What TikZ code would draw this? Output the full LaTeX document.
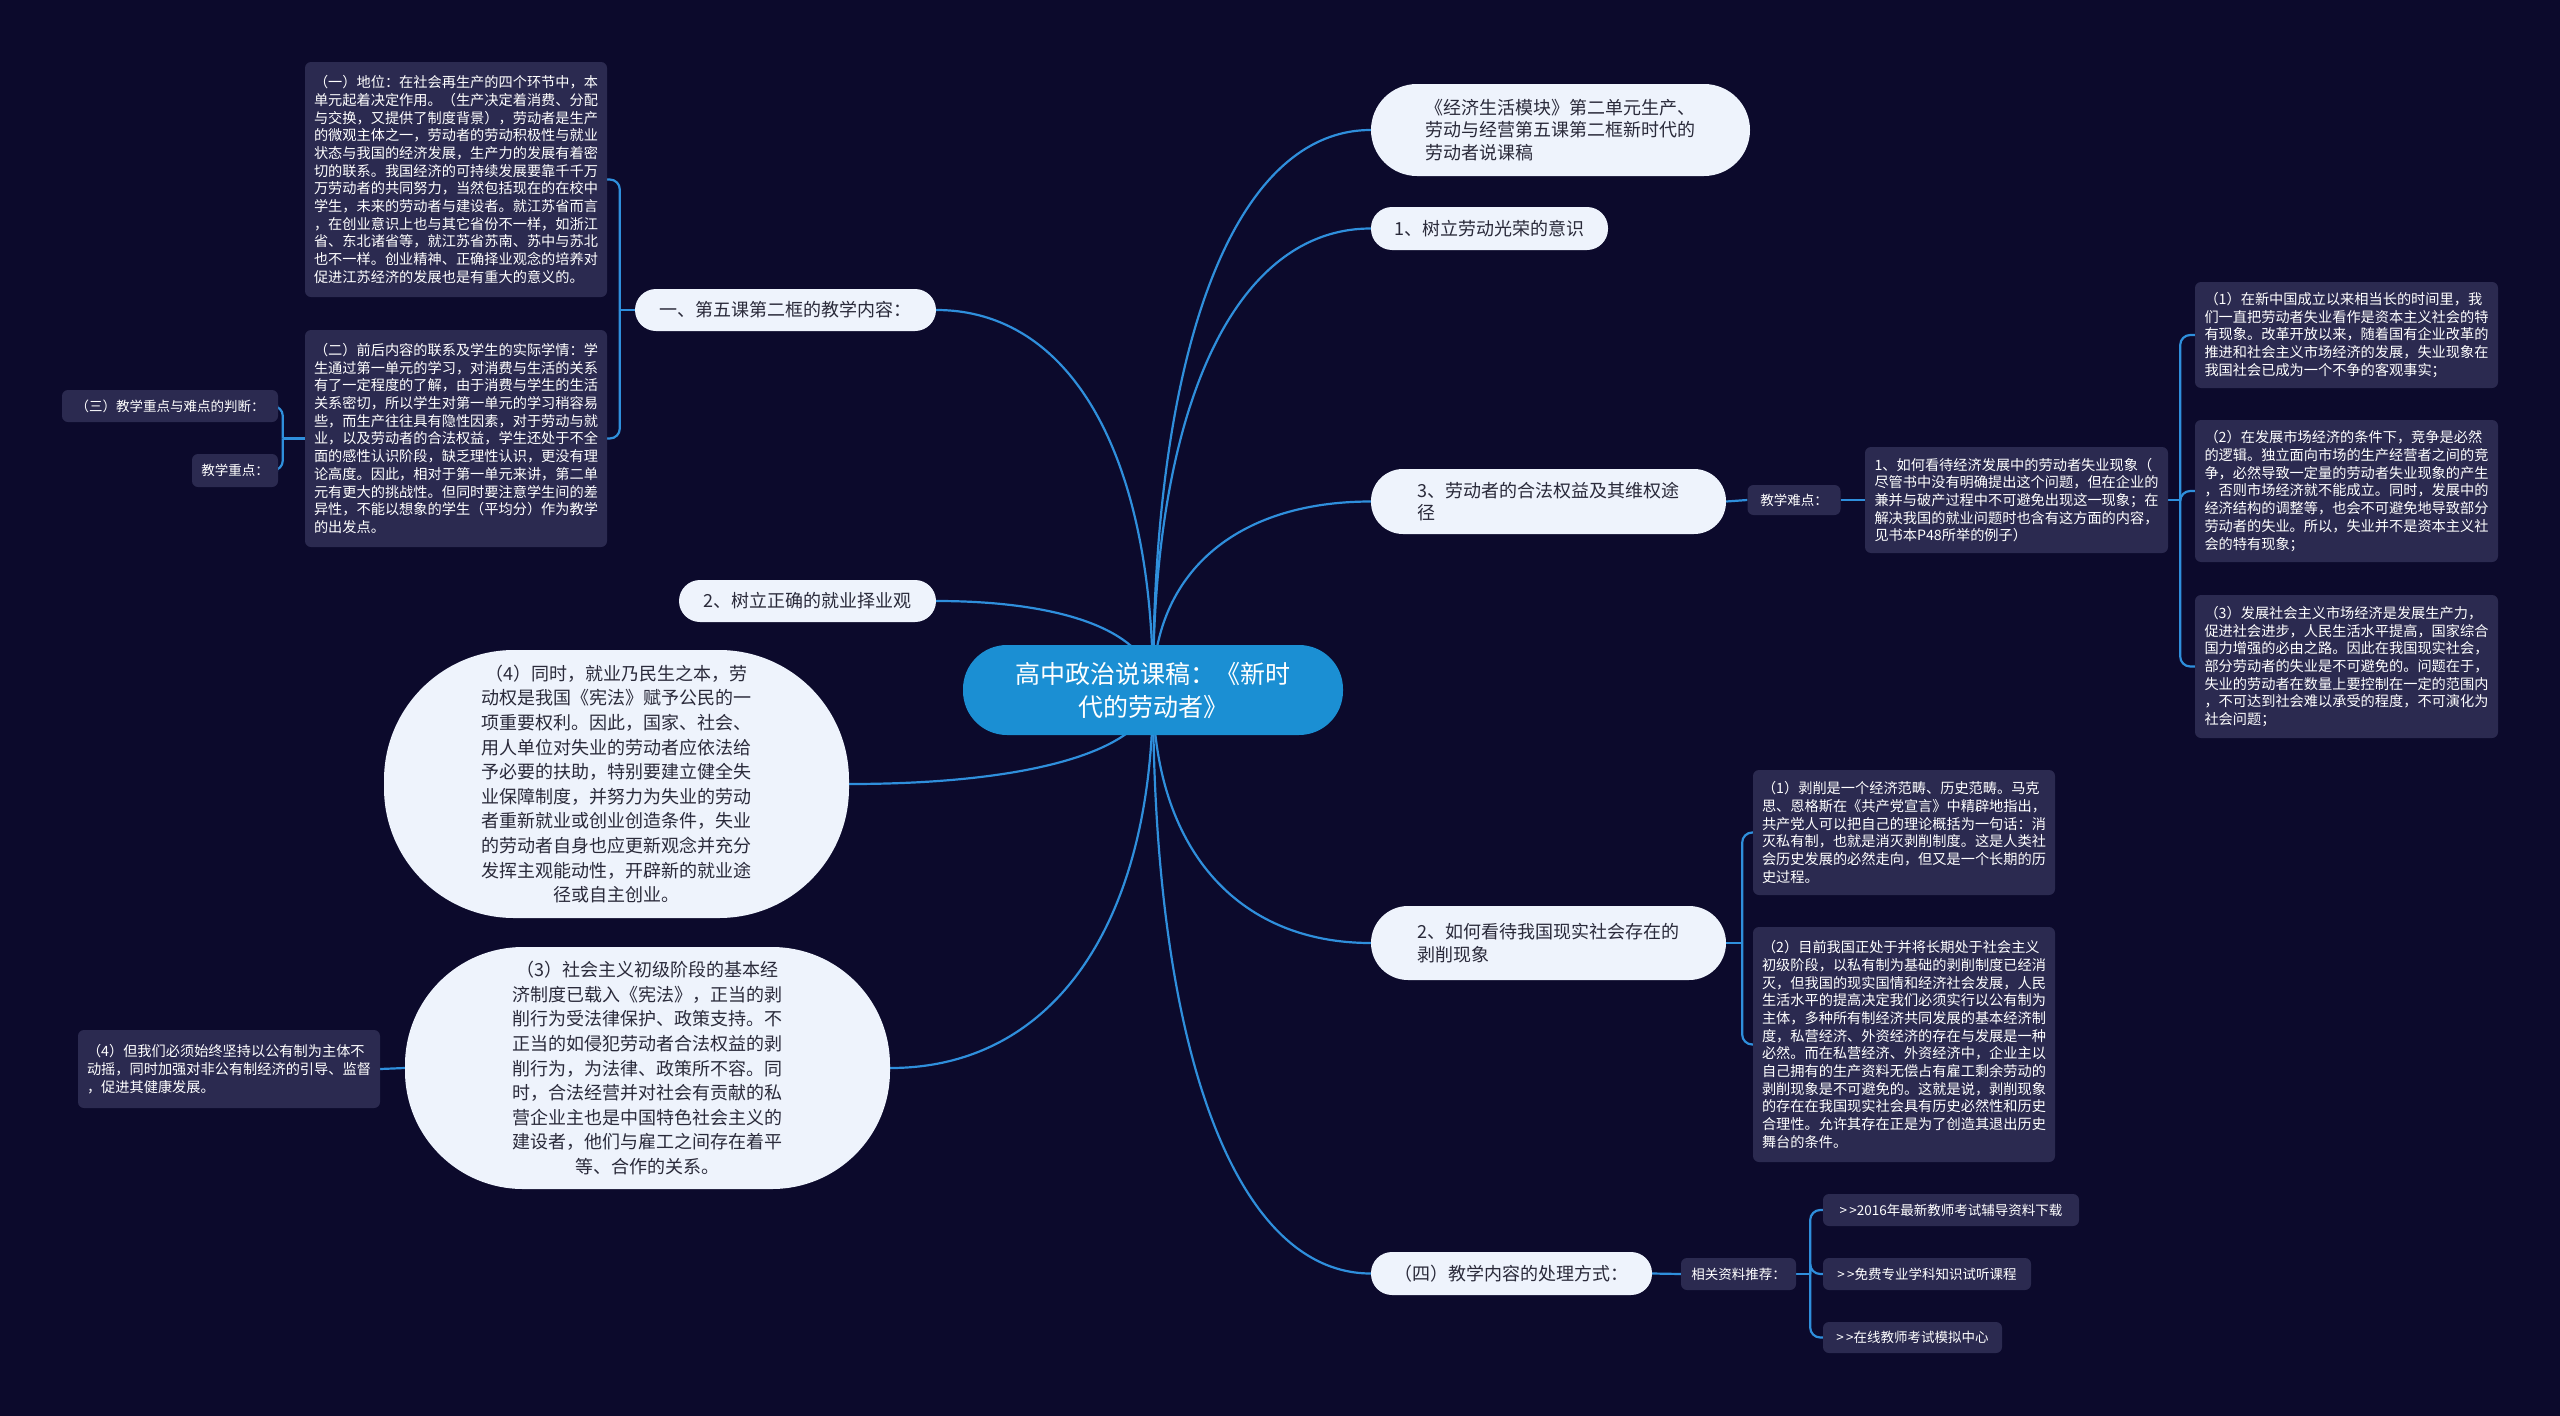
\documentclass[tikz,border=0pt]{standalone}
\usepackage{fontspec}
\setmainfont{Noto Sans CJK SC}
\usetikzlibrary{calc}
\definecolor{bgc}{HTML}{0C0A2C}
\definecolor{boxc}{HTML}{2B2A50}
\definecolor{boxtxt}{HTML}{FFFFFF}
\definecolor{lightc}{HTML}{EEF3FC}
\definecolor{lighttxt}{HTML}{2A2A3A}
\definecolor{linec}{HTML}{2F8FDC}
\definecolor{rootc}{HTML}{1B8FD3}
\pgfdeclarelayer{back}
\pgfdeclarelayer{lines}
\pgfsetlayers{back,lines,main}
\newcommand{\mmcurve}[2]{\draw[conn] (#1) .. controls ($(#1)!0.62!(#1|-#2)$) and ($(#2)!0.62!(#1|-#2)$) .. (#2);}
\begin{document}
\begin{tikzpicture}[x=1pt,y=-1pt,
  darkbox/.style={fill=boxc, rounded corners=6, text=boxtxt, font=\fontsize{14.2}{17.7}\selectfont, align=left, inner sep=3},
  smallbox/.style={fill=boxc, rounded corners=6, text=boxtxt, font=\fontsize{13.5}{16}\selectfont, align=left, inner sep=3},
  lightnode/.style={fill=lightc, text=lighttxt, font=\fontsize{18}{22.5}\selectfont, align=left, inner sep=3},
  bigpill/.style={fill=lightc, text=lighttxt, font=\fontsize{18}{24.6}\selectfont, align=center, inner sep=3},
  rootnode/.style={fill=rootc, text=white, font=\fontsize{25}{33}\selectfont, align=center, inner sep=3, rounded corners=44},
  conn/.style={draw=linec, line width=2.2},
  bracket/.style={draw=linec, line width=2.2, rounded corners=10}]
\begin{pgfonlayer}{back}
\fill[bgc] (0,0) rectangle (2560,1416);
\end{pgfonlayer}
\useasboundingbox (0,0) rectangle (2560,1416);

% root
\node[rootnode, minimum width=380, minimum height=90] (root) at (1153,690) {高中政治说课稿：《新时\\代的劳动者》};

% level 1 right
\node[lightnode, rounded corners=46, minimum width=379, minimum height=92] (n1) at (1560.5,130) {《经济生活模块》第二单元生产、\\劳动与经营第五课第二框新时代的\\劳动者说课稿};
\node[lightnode, rounded corners=21, minimum width=237, minimum height=43] (n2) at (1489.5,228.5) {1、树立劳动光荣的意识};
\node[lightnode, rounded corners=32, minimum width=355, minimum height=65] (n3) at (1548.5,501.5) {3、劳动者的合法权益及其维权途\\径};
\node[lightnode, rounded corners=37, minimum width=355, minimum height=74] (n4) at (1548.5,943) {2、如何看待我国现实社会存在的\\剥削现象};
\node[lightnode, rounded corners=21, minimum width=281, minimum height=43] (n5) at (1511.5,1273.5) {（四）教学内容的处理方式：};

% level 1 left
\node[lightnode, rounded corners=21, minimum width=301, minimum height=42] (n6) at (785.5,310) {一、第五课第二框的教学内容：};
\node[lightnode, rounded corners=21, minimum width=257, minimum height=42] (n7) at (807.5,601) {2、树立正确的就业择业观};
\node[bigpill, rounded corners=130, minimum width=465, minimum height=268] (n8) at (616.5,784) {（4）同时，就业乃民生之本，劳\\动权是我国《宪法》赋予公民的一\\项重要权利。因此，国家、社会、\\用人单位对失业的劳动者应依法给\\予必要的扶助，特别要建立健全失\\业保障制度，并努力为失业的劳动\\者重新就业或创业创造条件，失业\\的劳动者自身也应更新观念并充分\\发挥主观能动性，开辟新的就业途\\径或自主创业。};
\node[bigpill, rounded corners=118, minimum width=485, minimum height=242] (n9) at (647.5,1068) {（3）社会主义初级阶段的基本经\\济制度已载入《宪法》，正当的剥\\削行为受法律保护、政策支持。不\\正当的如侵犯劳动者合法权益的剥\\削行为，为法律、政策所不容。同\\时，合法经营并对社会有贡献的私\\营企业主也是中国特色社会主义的\\建设者，他们与雇工之间存在着平\\等、合作的关系。};

% children of n6
\node[darkbox, minimum width=302, minimum height=235] (a1) at (456,179.5) {（一）地位：在社会再生产的四个环节中，本\\单元起着决定作用。（生产决定着消费、分配\\与交换，又提供了制度背景），劳动者是生产\\的微观主体之一，劳动者的劳动积极性与就业\\状态与我国的经济发展，生产力的发展有着密\\切的联系。我国经济的可持续发展要靠千千万\\万劳动者的共同努力，当然包括现在的在校中\\学生，未来的劳动者与建设者。就江苏省而言\\，在创业意识上也与其它省份不一样，如浙江\\省、东北诸省等，就江苏省苏南、苏中与苏北\\也不一样。创业精神、正确择业观念的培养对\\促进江苏经济的发展也是有重大的意义的。};
\node[darkbox, minimum width=302, minimum height=217] (a2) at (456,438.5) {（二）前后内容的联系及学生的实际学情：学\\生通过第一单元的学习，对消费与生活的关系\\有了一定程度的了解，由于消费与学生的生活\\关系密切，所以学生对第一单元的学习稍容易\\些，而生产往往具有隐性因素，对于劳动与就\\业，以及劳动者的合法权益，学生还处于不全\\面的感性认识阶段，缺乏理性认识，更没有理\\论高度。因此，相对于第一单元来讲，第二单\\元有更大的挑战性。但同时要注意学生间的差\\异性，不能以想象的学生（平均分）作为教学\\的出发点。};
\node[smallbox, minimum width=216, minimum height=32] (a3) at (170,406) {（三）教学重点与难点的判断：};
\node[smallbox, minimum width=86, minimum height=33] (a4) at (235,470.5) {教学重点：};

% children of n3
\node[smallbox, minimum width=93, minimum height=30] (nd) at (1794,500) {教学难点：};
\node[darkbox, minimum width=303, minimum height=106] (r0) at (2016.5,500) {1、如何看待经济发展中的劳动者失业现象（\\尽管书中没有明确提出这个问题，但在企业的\\兼并与破产过程中不可避免出现这一现象；在\\解决我国的就业问题时也含有这方面的内容，\\见书本P48所举的例子）};
\node[darkbox, minimum width=303, minimum height=106] (r1) at (2346.5,335) {（1）在新中国成立以来相当长的时间里，我\\们一直把劳动者失业看作是资本主义社会的特\\有现象。改革开放以来，随着国有企业改革的\\推进和社会主义市场经济的发展，失业现象在\\我国社会已成为一个不争的客观事实；};
\node[darkbox, minimum width=303, minimum height=142] (r2) at (2346.5,491) {（2）在发展市场经济的条件下，竞争是必然\\的逻辑。独立面向市场的生产经营者之间的竞\\争，必然导致一定量的劳动者失业现象的产生\\，否则市场经济就不能成立。同时，发展中的\\经济结构的调整等，也会不可避免地导致部分\\劳动者的失业。所以，失业并不是资本主义社\\会的特有现象；};
\node[darkbox, minimum width=303, minimum height=143] (r3) at (2346.5,666.5) {（3）发展社会主义市场经济是发展生产力，\\促进社会进步，人民生活水平提高，国家综合\\国力增强的必由之路。因此在我国现实社会，\\部分劳动者的失业是不可避免的。问题在于，\\失业的劳动者在数量上要控制在一定的范围内\\，不可达到社会难以承受的程度，不可演化为\\社会问题；};

% children of n4
\node[darkbox, minimum width=302, minimum height=125] (e1) at (1904,832.5) {（1）剥削是一个经济范畴、历史范畴。马克\\思、恩格斯在《共产党宣言》中精辟地指出，\\共产党人可以把自己的理论概括为一句话：消\\灭私有制，也就是消灭剥削制度。这是人类社\\会历史发展的必然走向，但又是一个长期的历\\史过程。};
\node[darkbox, minimum width=302, minimum height=235] (e2) at (1904,1044.5) {（2）目前我国正处于并将长期处于社会主义\\初级阶段，以私有制为基础的剥削制度已经消\\灭，但我国的现实国情和经济社会发展，人民\\生活水平的提高决定我们必须实行以公有制为\\主体，多种所有制经济共同发展的基本经济制\\度，私营经济、外资经济的存在与发展是一种\\必然。而在私营经济、外资经济中，企业主以\\自己拥有的生产资料无偿占有雇工剩余劳动的\\剥削现象是不可避免的。这就是说，剥削现象\\的存在在我国现实社会具有历史必然性和历史\\合理性。允许其存在正是为了创造其退出历史\\舞台的条件。};

% children of n5
\node[smallbox, minimum width=115, minimum height=32] (rel) at (1738.5,1274) {相关资料推荐：};
\node[smallbox, minimum width=256, minimum height=32] (l1) at (1951,1210) {>\,>2016年最新教师考试辅导资料下载};
\node[smallbox, minimum width=208, minimum height=32] (l2) at (1927,1274) {>\,>免费专业学科知识试听课程};
\node[smallbox, minimum width=179, minimum height=31] (l3) at (1912.5,1337.5) {>\,>在线教师考试模拟中心};

% child of n9
\node[darkbox, minimum width=302, minimum height=78] (b4) at (229,1069) {（4）但我们必须始终坚持以公有制为主体不\\动摇，同时加强对非公有制经济的引导、监督\\，促进其健康发展。};

% connectors
\begin{pgfonlayer}{lines}
\coordinate (rs) at (root.center);
\coordinate (ls) at (root.center);
\mmcurve{rs}{n1.west}
\mmcurve{rs}{n2.west}
\mmcurve{rs}{n3.west}
\mmcurve{rs}{n4.west}
\mmcurve{rs}{n5.west}
\mmcurve{ls}{n6.east}
\mmcurve{ls}{n7.east}
\mmcurve{ls}{n8.east}
\mmcurve{ls}{n9.east}
% n6 bracket
\coordinate (j6) at ([xshift=-15pt]n6.west);
\draw[conn] (n6.west) -- (j6);
\draw[bracket] (j6) |- (a1.east);
\draw[bracket] (j6) |- (a2.east);
% a2 bracket
\coordinate (ja2) at ([xshift=-22pt]a2.west);
\draw[conn] (a2.west) -- (ja2);
\draw[bracket] (ja2) |- (a3.east);
\draw[bracket] (ja2) |- (a4.east);
% n3 chain
\draw[conn] (n3.east) -- (nd.west);
\draw[conn] (nd.east) -- (r0.west);
\coordinate (jr0) at ([xshift=12pt]r0.east);
\draw[conn] (r0.east) -- (jr0);
\draw[bracket] (jr0) |- (r1.west);
\draw[bracket] (jr0) |- (r2.west);
\draw[bracket] (jr0) |- (r3.west);
% n4 bracket
\coordinate (j4) at ([xshift=16pt]n4.east);
\draw[conn] (n4.east) -- (j4);
\draw[bracket] (j4) |- (e1.west);
\draw[bracket] (j4) |- (e2.west);
% n5 chain
\draw[conn] (n5.east) -- (rel.west);
\coordinate (jrel) at ([xshift=14pt]rel.east);
\draw[conn] (rel.east) -- (jrel);
\draw[bracket] (jrel) |- (l1.west);
\draw[bracket] (jrel) |- (l2.west);
\draw[bracket] (jrel) |- (l3.west);
% n9 child
\draw[conn] (n9.west) -- (b4.east);
\end{pgfonlayer}
\end{tikzpicture}
\end{document}
